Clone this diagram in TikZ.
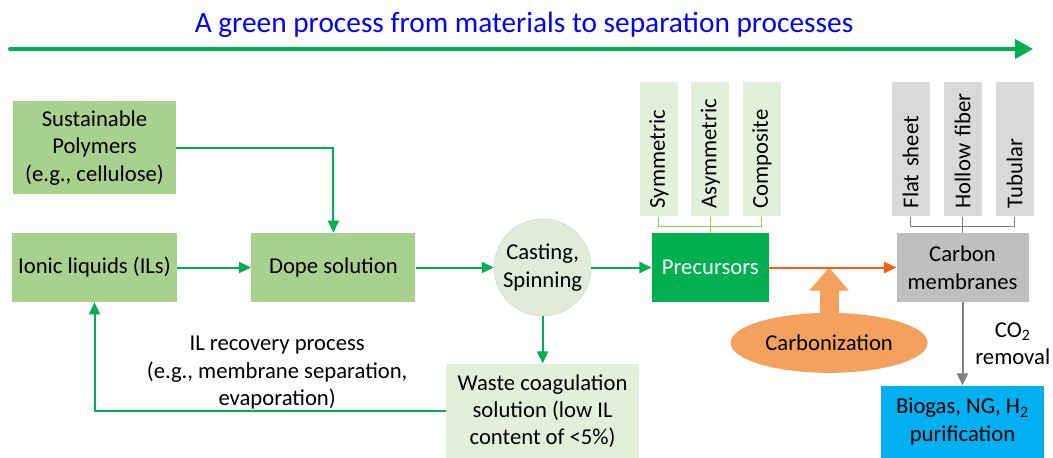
\documentclass[tikz,border=0pt]{standalone}
\usepackage{fontspec}
\setmainfont{Carlito}
\usetikzlibrary{positioning,arrows.meta,shapes.geometric}

\definecolor{boxgreen}{HTML}{A9D18E}
\definecolor{palegreen}{HTML}{E2F0D9}
\definecolor{circfill}{HTML}{E2EBDA}
\definecolor{circline}{HTML}{D3DFC9}
\definecolor{darkgreen}{HTML}{00B050}
\definecolor{linegreen}{HTML}{92D050}
\definecolor{hotorange}{HTML}{FF5B0F}
\definecolor{softorange}{HTML}{F4A15D}
\definecolor{lightgrey}{HTML}{D9D9D9}
\definecolor{midgrey}{HTML}{BFBFBF}
\definecolor{linegrey}{HTML}{808080}
\definecolor{skyblue}{HTML}{00B0F0}

\begin{document}
\begin{tikzpicture}[>=Triangle, node distance=1.5cm,
  font=\fontsize{12.9}{15.6}\selectfont,
  headline/.style={text=blue, font=\fontsize{16.7}{20}\selectfont},
  greenbox/.style={fill=boxgreen, minimum width=3.26cm, minimum height=1.38cm, align=center},
  palebox/.style={fill=palegreen, align=center},
  typebox/.style={rotate=90, anchor=west, minimum width=2.68cm, minimum height=0.76cm,
    text width=2.36cm, align=left, inner xsep=0.16cm},
  flow/.style={darkgreen, line width=0.04cm, -{Triangle[length=0.24cm,width=0.22cm]}},
  link/.style={line width=0.025cm}
]
  \useasboundingbox (0,0) rectangle (21.06,-9.14);

  % Titulo y flecha general
  \node[headline] (head) at (10.48,-0.5) {A green process from materials to separation processes};
  \coordinate (flowstart) at (0.2,-0.98);
  \coordinate (flowend) at (20.66,-0.98);
  \draw[darkgreen, line width=0.08cm, line cap=round, -{Triangle[length=0.36cm,width=0.38cm]}] (flowstart) -- (flowend);

  % Materiales de partida
  \node[greenbox] (ionic) at (1.89,-5.35) {Ionic liquids (ILs)};
  \node[greenbox, minimum height=1.86cm, above=0.76cm of ionic] (poly) {Sustainable\\Polymers\\(e.g., cellulose)};

  % Preparacion
  \node[greenbox, minimum width=3.28cm, right=1.48cm of ionic] (dope) {Dope solution};
  \node[circle, fill=circfill, draw=circline, thin, minimum size=1.94cm, inner sep=0pt, align=center,
    right=1.56cm of dope] (cast) {Casting,\\Spinning};
  \node[fill=darkgreen, text=white, minimum width=2.34cm, minimum height=1.38cm, right=1.2cm of cast] (prec) {Precursors};
  \node[palebox, minimum width=3.86cm, minimum height=1.9cm, below=0.94cm of cast] (waste)
    {Waste coagulation\\solution (low IL\\content of <5\%)};

  % Tipos de precursor
  \node[typebox, fill=palegreen] (asym) at ([yshift=0.32cm]prec.north) {Asymmetric};
  \node[typebox, fill=palegreen] (sym) at ([xshift=-1.03cm,yshift=0.32cm]prec.north) {Symmetric};
  \node[typebox, fill=palegreen] (comp) at ([xshift=1.03cm,yshift=0.32cm]prec.north) {Composite};

  % Membranas de carbono
  \node[fill=midgrey, minimum width=2.64cm, minimum height=1.38cm, align=center, right=2.54cm of prec] (carb) {Carbon\\membranes};
  \node[fill=skyblue, minimum width=3.26cm, minimum height=1.44cm, align=center, below=1.66cm of carb] (biog)
    {Biogas, NG, H\textsubscript{2}\\purification};
  \node[typebox, fill=lightgrey] (hollow) at ([yshift=0.32cm]carb.north) {Hollow fiber};
  \node[typebox, fill=lightgrey] (flat) at ([xshift=-1.04cm,yshift=0.32cm]carb.north) {Flat sheet};
  \node[typebox, fill=lightgrey] (tube) at ([xshift=1.04cm,yshift=0.32cm]carb.north) {Tubular};

  % Carbonizacion
  \coordinate[right=1.2cm of prec.east] (hit);
  \node[ellipse, fill=softorange, minimum width=3.46cm, minimum height=1.2cm, below=0.9cm of hit] (carbz) {Carbonization};

  % Flechas verdes
  \draw[flow] (poly.east) -| (dope.north);
  \draw[flow] (ionic) -- (dope);
  \draw[flow] (dope) -- (cast);
  \draw[flow] (cast) -- (prec);
  \draw[flow] (cast) -- (waste);
  \draw[flow] (waste.west) -| node[pos=0.24, above, yshift=-0.1cm, align=center, black] {IL recovery process\\(e.g., membrane separation,\\evaporation)} (ionic.south);

  % Uniones de tipos
  \draw[link, linegreen] (sym.west) -- ++(0,-0.2) -| (comp.west);
  \draw[link, linegreen] (asym.west) -- (prec.north);
  \draw[link, linegrey] (flat.west) -- ++(0,-0.2) -| (tube.west);
  \draw[link, linegrey] (hollow.west) -- (carb.north);

  % Carbonizacion y separacion
  \draw[softorange, line width=0.38cm, -{Triangle[length=0.46cm,width=0.76cm]}] (carbz.north) -- (hit);
  \draw[hotorange, line width=0.04cm, -{Triangle[length=0.24cm,width=0.22cm]}] (prec) -- (carb);
  \draw[linegrey, line width=0.04cm, -{Triangle[length=0.24cm,width=0.22cm]}] (carb) --
    node[right, align=center, xshift=0.12cm, text=black] {CO\textsubscript{2}\\removal} (biog);
\end{tikzpicture}
\end{document}
